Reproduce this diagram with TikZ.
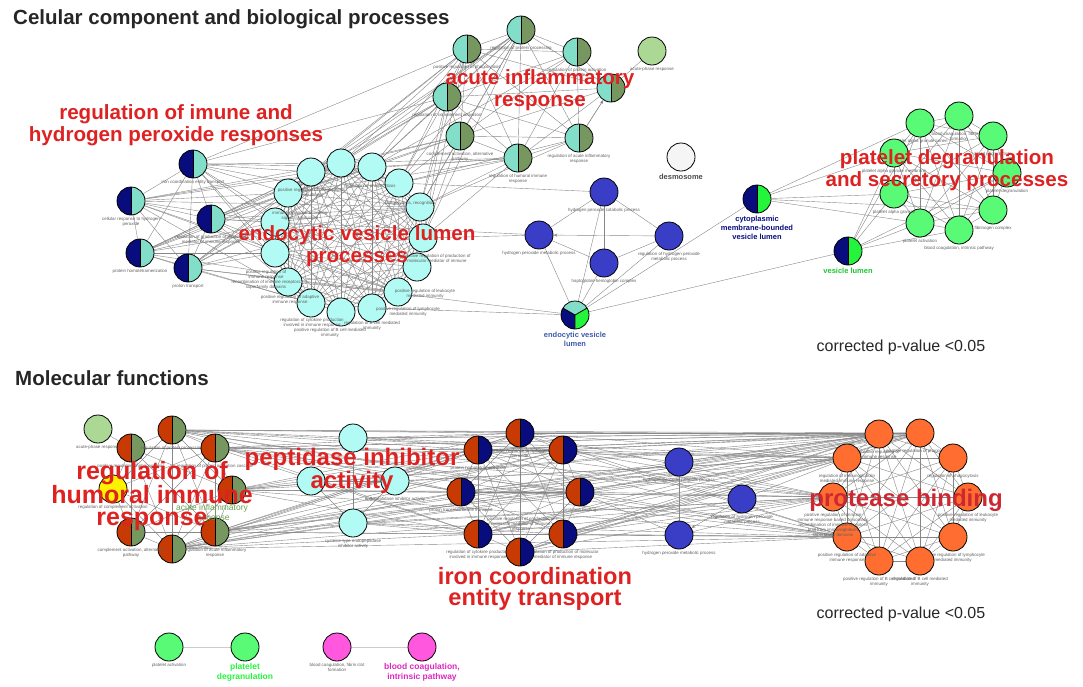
\documentclass[tikz,border=0pt]{standalone}
\usepackage{fontspec}
\setmainfont{Liberation Sans}
\usepackage{tikz}
\usetikzlibrary{arrows.meta}
\pgfdeclarelayer{edges}
\pgfsetlayers{edges,main}

\definecolor{navyhalf}{RGB}{8,12,125}
\definecolor{aquahalf}{RGB}{130,222,200}
\definecolor{olivehalf}{RGB}{118,152,96}
\definecolor{cyanlight}{RGB}{178,250,244}
\definecolor{bluenode}{RGB}{58,62,198}
\definecolor{greennode}{RGB}{88,250,118}
\definecolor{greenhalf}{RGB}{36,245,60}
\definecolor{palegreen}{RGB}{172,216,150}
\definecolor{rusthalf}{RGB}{200,58,4}
\definecolor{orangenode}{RGB}{255,110,48}
\definecolor{magentanode}{RGB}{255,88,222}
\definecolor{themered}{RGB}{222,34,34}
\definecolor{linkgray}{RGB}{135,135,135}
\definecolor{tinygray}{RGB}{95,95,95}

\begin{document}
\begin{tikzpicture}[x=1pt, y=-1pt,
    label distance=2pt,
    term/.style = {shape=circle, draw, line width=0.8pt, minimum size=28pt, inner sep=0pt},
    split/.style 2 args = {term, path picture={
        \fill[#1] (path picture bounding box.south west) rectangle (path picture bounding box.north);
        \fill[#2] (path picture bounding box.south) rectangle (path picture bounding box.north east);
        \draw[line width=0.8pt] (path picture bounding box.north) -- (path picture bounding box.south);}},
    tri/.style = {term, path picture={
        \begin{scope}[shift={(path picture bounding box.center)}]
          \fill[aquahalf] (0pt,0pt) -- (30:30pt) -- (90:30pt) -- (150:30pt) -- cycle;
          \fill[navyhalf] (0pt,0pt) -- (150:30pt) -- (210:30pt) -- (270:30pt) -- cycle;
          \fill[greenhalf] (0pt,0pt) -- (270:30pt) -- (330:30pt) -- (30:30pt) -- cycle;
          \draw[line width=0.8pt] (0pt,0pt) -- (30:15pt) (0pt,0pt) -- (150:15pt) (0pt,0pt) -- (270:15pt);
        \end{scope}}},
    tiny/.style = {font=\fontsize{4.4}{5}\selectfont, text=tinygray, align=center, inner sep=0pt},
    goname/.style = {font=\fontsize{7.5}{9}\selectfont\bfseries, align=center, inner sep=0pt},
    theme/.style = {font=\fontsize{20.6}{22.5}\selectfont\bfseries, text=themered, align=center, inner sep=0pt},
    bigtheme/.style = {theme, font=\fontsize{24}{21}\selectfont\bfseries},
    heading/.style = {font=\fontsize{20.5}{23}\selectfont\bfseries, text=black!85, anchor=west, inner sep=0pt},
    pvalue/.style = {font=\fontsize{16}{18}\selectfont, text=black!85, inner sep=0pt},
    link/.style = {draw=linkgray, line width=0.4pt},
    hint/.style = {-{Stealth[length=4pt,width=3pt]}}]
\useasboundingbox (0,0) rectangle (1083,686);

% cellular component and biological processes
\node[heading] (title1) at (13,19) {Celular component and biological processes};

\node[split={navyhalf}{aquahalf}, label={[tiny]below:iron coordination entity transport}] (h1) at (193,164) {};
\node[split={navyhalf}{aquahalf}, label={[tiny]below:{cellular response to hydrogen\\peroxide}}] (h2) at (131,201) {};
\node[split={navyhalf}{aquahalf}, label={[tiny]below:{regulation of production of molecular\\mediator of immune response}}] (h3) at (211,219) {};
\node[split={navyhalf}{aquahalf}, label={[tiny]below:protein homotetramerization}] (h4) at (140,253) {};
\node[split={navyhalf}{aquahalf}, label={[tiny]below:proton transport}] (h5) at (188,268) {};

\foreach \n/\x/\y in {1/311/172, 2/341/163, 3/372/167, 4/399/183, 5/420/207, 6/423/238, 7/417/267, 8/398/292,
                      9/372/308, 10/341/312, 11/311/303, 12/288/282, 13/275/253, 14/275/222, 15/288/193}
  \node[term, fill=cyanlight] (c\n) at (\x,\y) {};
\node[tiny] (lc1) at (312,193) {positive regulation of phagocytosis,\\engulfment};
\node[tiny] (lc2) at (370,186) {regulation of phagocytosis};
\node[tiny] (lc3) at (410,203) {phagocytosis, recognition};
\node[tiny] (lc4) at (300,216) {immune response-activating\\signal transduction};
\node[tiny] (lc5) at (437,258) {positive regulation of production of\\molecular mediator of immune};
\node[tiny] (lc6) at (266,280) {positive regulation of\\immune response\\recombination of immune receptors\\superfamily domains};
\node[tiny] (lc7) at (290,300) {positive regulation of adaptive\\immune response};
\node[tiny] (lc8) at (425,294) {positive regulation of leukocyte\\mediated immunity};
\node[tiny] (lc9) at (408,312) {positive regulation of lymphocyte\\mediated immunity};
\node[tiny] (lc10) at (312,323) {regulation of cytokine production\\involved in immune response};
\node[tiny] (lc11) at (372,326) {regulation of B cell mediated\\immunity};
\node[tiny] (lc12) at (330,333) {positive regulation of B cell mediated\\immunity};

\node[split={aquahalf}{olivehalf}, label={[tiny]below:positive regulation of phagocytosis}] (a1) at (467,49) {};
\node[split={aquahalf}{olivehalf}, label={[tiny]below:regulation of protein processing}] (a2) at (521,30) {};
\node[split={aquahalf}{olivehalf}, label={[tiny]below:{regulation of protein activation\\cascade}}] (a3) at (577,52) {};
\node[split={aquahalf}{olivehalf}, label={[tiny]below:regulation of complement activation}] (a4) at (447,97) {};
\node[split={aquahalf}{olivehalf}] (a5) at (611,88) {};
\node[split={aquahalf}{olivehalf}, label={[tiny]below:{complement activation, alternative\\pathway}}] (a6) at (460,136) {};
\node[split={aquahalf}{olivehalf}, label={[tiny]below:{regulation of acute inflammatory\\response}}] (a7) at (579,138) {};
\node[split={aquahalf}{olivehalf}, label={[tiny]below:{regulation of humoral immune\\response}}] (a8) at (518,158) {};
\node[term, fill=palegreen, label={[tiny]below:acute-phase response}] (aph) at (652,51) {};
\node[term, fill=white!96!black, label={[goname, text=black!70]below:desmosome}] (dsm) at (681,157) {};

\node[term, fill=bluenode, label={[tiny]below:hydrogen peroxide catabolic process}] (b1) at (604,192) {};
\node[term, fill=bluenode, label={[tiny]below:hydrogen peroxide metabolic process}] (b2) at (539,235) {};
\node[term, fill=bluenode, label={[tiny]below:{regulation of hydrogen peroxide\\metabolic process}}] (b3) at (669,236) {};
\node[term, fill=bluenode, label={[tiny]below:haptoglobin-hemoglobin complex}] (b4) at (604,263) {};
\node[tri, label={[goname, text={rgb,255:red,60;green,90;blue,170}]below:{endocytic vesicle\\lumen}}] (evl) at (575,315) {};
\node[split={navyhalf}{greenhalf}, label={[goname, text=navyhalf]below:{cytoplasmic\\membrane-bounded\\vesicle lumen}}] (cmv) at (757,199) {};
\node[split={navyhalf}{greenhalf}, label={[goname, text=greenhalf!80!black]below:vesicle lumen}] (vl) at (848,251) {};

\node[term, fill=greennode, label={[tiny]below:platelet alpha granule lumen}] (p1) at (920,123) {};
\node[term, fill=greennode, label={[tiny]below:{blood coagulation, fibrin clot\\formation}}] (p2) at (959,116) {};
\node[term, fill=greennode, label={[tiny]below:blood microparticle}] (p3) at (993,136) {};
\node[term, fill=greennode, label={[tiny]below:platelet degranulation}] (p4) at (1007,173) {};
\node[term, fill=greennode, label={[tiny]below:fibrinogen complex}] (p5) at (993,210) {};
\node[term, fill=greennode, label={[tiny]below:{blood coagulation, intrinsic pathway}}] (p6) at (959,230) {};
\node[term, fill=greennode, label={[tiny]below:platelet activation}] (p7) at (920,223) {};
\node[term, fill=greennode, label={[tiny]below:platelet alpha granule}] (p8) at (894,194) {};
\node[term, fill=greennode, label={[tiny]below:platelet alpha granule membrane}] (p9) at (894,153) {};

\node[pvalue] (pv1) at (901,347) {corrected p-value <0.05};

% molecular functions
\node[heading] (title2) at (15,378) {Molecular functions};

\node[term, fill=palegreen, label={[tiny]below:acute-phase response}] (ag) at (98,429) {};
\node[split={rusthalf}{olivehalf}, label={[tiny]below:positive regulation of phagocytosis}] (r1) at (131,448) {};
\node[split={rusthalf}{olivehalf}, label={[tiny]below:regulation of protein processing}] (r2) at (172,430) {};
\node[split={rusthalf}{olivehalf}, label={[tiny]below:regulation of protein activation cascade}] (r3) at (215,448) {};
\node[split={rusthalf}{olivehalf}] (r4) at (232,490) {};
\node[split={rusthalf}{olivehalf}, label={[tiny]below:{regulation of acute inflammatory\\response}}] (r5) at (215,532) {};
\node[split={rusthalf}{olivehalf}] (r6) at (172,549) {};
\node[split={rusthalf}{olivehalf}, label={[tiny]below:{complement activation, alternative\\pathway}}] (r7) at (131,532) {};
\node[term, fill=yellow, label={[tiny]below:regulation of complement activation}] (y1) at (113,489) {};
\node[font=\fontsize{8.5}{10}\selectfont, text={rgb,255:red,105;green,160;blue,80}, align=center, inner sep=0pt] (acname) at (212,513) {acute inflammatory\\response};

\node[term, fill=cyanlight] (q1) at (353,438) {};
\node[term, fill=cyanlight] (q2) at (311,481) {};
\node[term, fill=cyanlight, label={[tiny]below:endopeptidase inhibitor activity}] (q3) at (395,481) {};
\node[term, fill=cyanlight, label={[tiny]below:{cysteine-type endopeptidase\\inhibitor activity}}] (q4) at (353,523) {};

\node[split={rusthalf}{navyhalf}, label={[tiny]below:{cellular response to hydrogen\\peroxide}}] (f1) at (520,433) {};
\node[split={rusthalf}{navyhalf}] (f2) at (563,450) {};
\node[split={rusthalf}{navyhalf}, label={[tiny]below:protein homotetramerization}] (f3) at (478,450) {};
\node[split={rusthalf}{navyhalf}, label={[tiny]below:proton transmembrane transport}] (f4) at (461,492) {};
\node[split={rusthalf}{navyhalf}, label={[tiny]below:protease binding}] (f5) at (580,492) {};
\node[split={rusthalf}{navyhalf}, label={[tiny]below:{regulation of production of molecular\\mediator of immune response}}] (f6) at (563,534) {};
\node[split={rusthalf}{navyhalf}, label={[tiny]below:{regulation of cytokine production\\involved in immune response}}] (f7) at (478,534) {};
\node[split={rusthalf}{navyhalf}] (f8) at (520,552) {};
\node[tiny] (lf) at (521,524) {positive regulation of production of\\molecular mediator of immune\\response};

\node[term, fill=bluenode, label={[tiny]below:hydrogen peroxide catabolic process}] (m1) at (679,462) {};
\node[term, fill=bluenode, label={[tiny]below:{regulation of hydrogen peroxide\\metabolic process}}] (m2) at (742,499) {};
\node[term, fill=bluenode, label={[tiny]below:hydrogen peroxide metabolic process}] (m3) at (679,535) {};

\node[term, fill=orangenode, label={[tiny]below:{positive regulation of\\immune response}}] (s1) at (879,434) {};
\node[term, fill=orangenode, label={[tiny]below:positive regulation of phagocytosis}] (s2) at (920,433) {};
\node[term, fill=orangenode, label={[tiny]below:regulation of phagocytosis}] (s3) at (953,458) {};
\node[term, fill=orangenode, label={[tiny]below:{positive regulation of leukocyte\\mediated immunity}}] (s4) at (968,497) {};
\node[term, fill=orangenode, label={[tiny]below:{positive regulation of lymphocyte\\mediated immunity}}] (s5) at (953,537) {};
\node[term, fill=orangenode, label={[tiny]below:{regulation of B cell mediated\\immunity}}] (s6) at (920,561) {};
\node[term, fill=orangenode, label={[tiny]below:{positive regulation of B cell mediated\\immunity}}] (s7) at (879,561) {};
\node[term, fill=orangenode, label={[tiny]below:{positive regulation of adaptive\\immune response}}] (s8) at (847,537) {};
\node[term, fill=orangenode, label={[tiny]below:{positive regulation of immune\\immune response based on somatic\\recombination of immune receptors\\built from immunoglobulin\\superfamily domains}}] (s9) at (833,497) {};
\node[term, fill=orangenode, label={[tiny]below:{regulation of immunoglobulin\\mediated immune response}}] (s10) at (847,458) {};

\node[term, fill=greennode, label={[tiny]below:platelet activation}] (u1) at (169,647) {};
\node[term, fill=greennode, label={[goname, font=\fontsize{8.5}{10}\selectfont\bfseries, text=greenhalf]below:{platelet\\degranulation}}] (u2) at (245,647) {};
\node[term, fill=magentanode, label={[tiny]below:{blood coagulation, fibrin clot\\formation}}] (u3) at (337,647) {};
\node[term, fill=magentanode, label={[goname, font=\fontsize{8.5}{10}\selectfont\bfseries, text={rgb,255:red,220;green,40;blue,190}]below:{blood coagulation,\\intrinsic pathway}}] (u4) at (422,647) {};

\node[pvalue] (pv2) at (901,614) {corrected p-value <0.05};

\begin{pgfonlayer}{edges}
  \foreach \i in {1,...,4} {
    \pgfmathtruncatemacro\k{\i+1}
    \foreach \j in {\k,...,5} \draw[link] (h\i) -- (h\j);
  }
  \foreach \i in {1,...,5}
    \foreach \j in {1,2,3,5,8,11,13,14,15} \draw[link] (h\i) -- (c\j);
  \foreach \i in {1,...,14} {
    \pgfmathtruncatemacro\k{\i+1}
    \foreach \j in {\k,...,15} \draw[link] (c\i) -- (c\j);
  }
  \foreach \i in {1,2,3,4,5,6,15}
    \foreach \j in {1,2,4,6,8} \draw[link] (c\i) -- (a\j);
  \foreach \i in {1,...,7} {
    \pgfmathtruncatemacro\k{\i+1}
    \foreach \j in {\k,...,8} \draw[link] (a\i) -- (a\j);
  }
  \foreach \a/\b in {h1/a1, h1/a4, c3/a3, c4/a7, c5/a7, c6/b2, h3/b2, c4/b1, c9/evl, h5/evl,
                     a5/aph, b1/b2, b1/b3, b1/b4, b2/b4, b3/b4, b1/evl, b2/evl, b4/evl, b3/evl,
                     evl/cmv, evl/vl, cmv/p1, cmv/p9, cmv/p8, cmv/p7, cmv/p5,
                     vl/p9, vl/p8, vl/p1, vl/p7, vl/p6, vl/p4}
    \draw[link] (\a) -- (\b);
  \draw[link, hint] (b3) -- (b2);
  \draw[link, hint] (a7) -- (a5);
  \foreach \i in {1,...,8} {
    \pgfmathtruncatemacro\k{\i+1}
    \foreach \j in {\k,...,9} \draw[link] (p\i) -- (p\j);
  }

  \foreach \i in {1,...,6} {
    \pgfmathtruncatemacro\k{\i+1}
    \foreach \j in {\k,...,7} \draw[link] (r\i) -- (r\j);
  }
  \foreach \j in {1,2,3,5,6,7} \draw[link] (y1) -- (r\j);
  \draw[link] (ag) -- (r1);
  \foreach \i in {2,3,4,5,6}
    \foreach \t in {f1,f2,f3,f4,f5,f7,s1,s2,s10,s9,s8} \draw[link] (r\i) -- (\t);
  \foreach \a/\b in {q1/q4, q2/q4, q3/q4, q2/q3, q1/f1, q1/f2, q3/f3, q3/f4, q4/f7, q4/f6,
                     q1/s1, q1/s2, q3/s10, q4/s8, q4/s9, m1/m3, m1/s1, m2/s10, m3/s9,
                     f2/m1, f5/m3, f6/m2}
    \draw[link] (\a) -- (\b);
  \draw[link, hint] (m2) -- (m3);
  \foreach \i in {1,...,7} {
    \pgfmathtruncatemacro\k{\i+1}
    \foreach \j in {\k,...,8} \draw[link] (f\i) -- (f\j);
  }
  \foreach \i in {1,...,8}
    \foreach \j in {1,2,8,9,10} \draw[link] (f\i) -- (s\j);
  \foreach \i in {1,...,9} {
    \pgfmathtruncatemacro\k{\i+1}
    \foreach \j in {\k,...,10} \draw[link] (s\i) -- (s\j);
  }
  \draw[link, draw=black!20, line width=0.8pt] (u1) -- (u2);
  \draw[link, draw=black!20, line width=0.8pt] (u3) -- (u4);
\end{pgfonlayer}

\node[theme] (t1) at (176,125) {regulation of imune and\\hydrogen peroxide responses};
\node[theme] (t2) at (540,90) {acute inflammatory\\response};
\node[theme] (t3) at (357,246) {endocytic vesicle lumen\\processes};
\node[theme] (t4) at (947,170) {platelet degranulation\\and secretory processes};
\node[bigtheme, font=\fontsize{25}{22.5}\selectfont\bfseries] (t5) at (152,496) {regulation of\\humoral immune\\response};
\node[bigtheme] (t6) at (352,471) {peptidase inhibitor\\activity};
\node[bigtheme, font=\fontsize{23.6}{20.5}\selectfont\bfseries] (t7) at (535,589) {iron coordination\\entity transport};
\node[bigtheme, text={rgb,255:red,205;green,40;blue,50}] (t8) at (906,500) {protease binding};
\end{tikzpicture}
\end{document}
